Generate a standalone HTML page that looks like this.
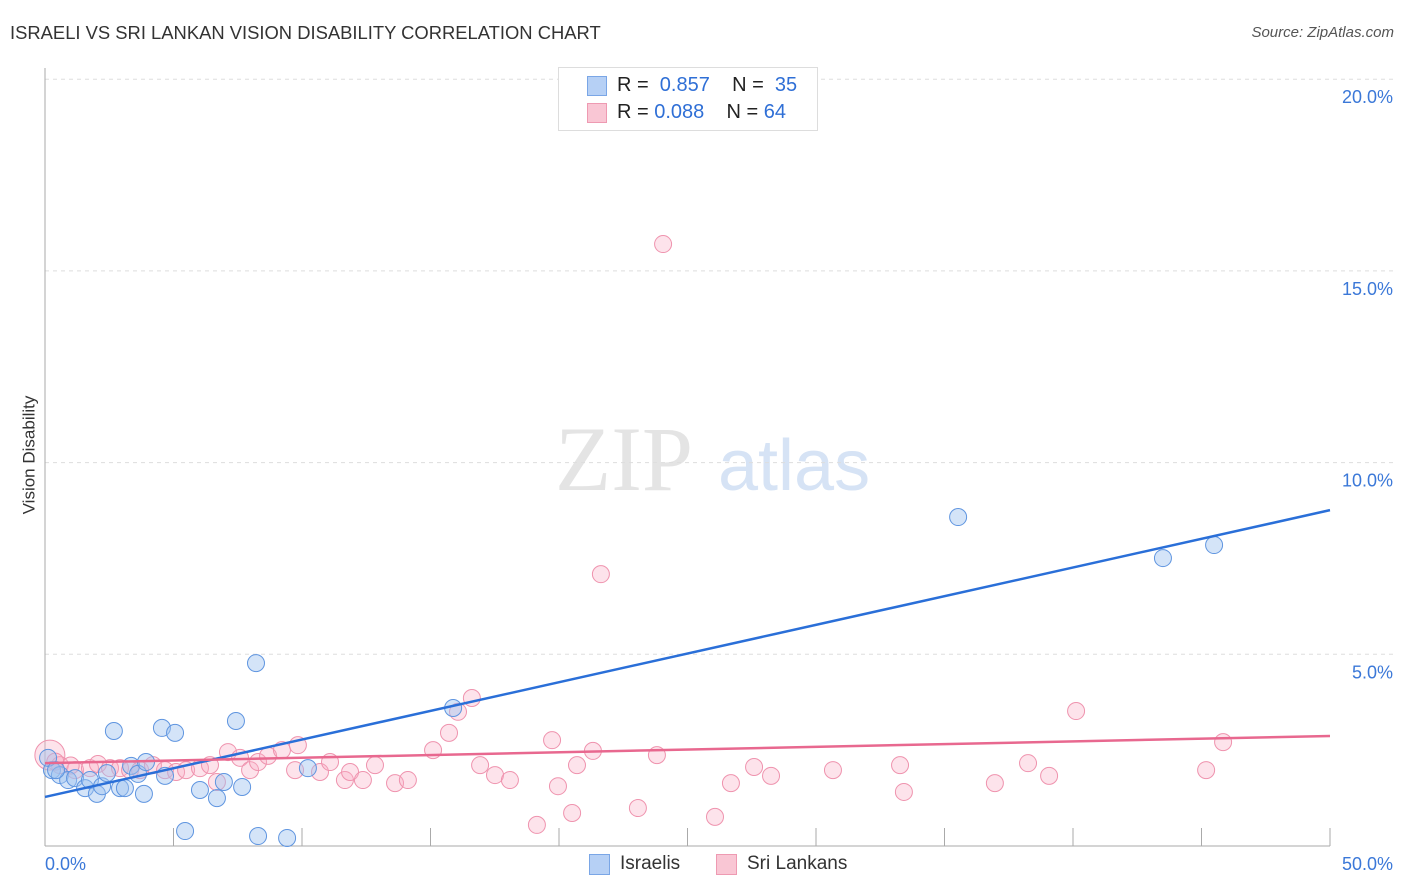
<!DOCTYPE html>
<html><head><meta charset="utf-8"><style>
body{margin:0;background:#fff;font-family:"Liberation Sans",sans-serif;}
#wrap{position:relative;width:1406px;height:892px;overflow:hidden;}
.t{position:absolute;white-space:nowrap;}
</style></head><body>
<div id="wrap">
<div class="t" style="left:10px;top:22px;font-size:18.4px;color:#333;">ISRAELI VS SRI LANKAN VISION DISABILITY CORRELATION CHART</div>
<div class="t" style="right:12px;top:24px;font-size:15px;color:#555;font-style:italic;">Source: ZipAtlas.com</div>
<div class="t" style="left:-30px;top:445px;font-size:17px;color:#333;transform:rotate(-90deg);">Vision Disability</div>
<svg id="plot" width="1406" height="892" style="position:absolute;left:0;top:0"></svg>
<div style="position:absolute;left:558px;top:67px;width:258px;height:62px;border:1px solid #ddd;background:#fff;font-size:20px;">
 <div style="position:absolute;left:28px;top:8px;width:18px;height:18px;background:#b6d0f5;border:1px solid #7aa6e6;"></div>
 <div class="t" style="left:58px;top:6px;color:#222;">R = <span style="color:#2f6fd6">&nbsp;0.857</span>&nbsp;&nbsp;&nbsp; N = <span style="color:#2f6fd6">&nbsp;35</span></div>
 <div style="position:absolute;left:28px;top:35px;width:18px;height:18px;background:#f9c6d4;border:1px solid #ee9ab2;"></div>
 <div class="t" style="left:58px;top:33px;color:#222;">R = <span style="color:#2f6fd6">0.088</span>&nbsp;&nbsp;&nbsp; N = <span style="color:#2f6fd6">64</span></div>
</div>
<div style="position:absolute;left:589px;top:854px;width:19px;height:19px;background:#b6d0f5;border:1px solid #7aa6e6;"></div>
<div class="t" style="left:620px;top:853px;font-size:19px;color:#333;">Israelis</div>
<div style="position:absolute;left:716px;top:854px;width:19px;height:19px;background:#f9c6d4;border:1px solid #ee9ab2;"></div>
<div class="t" style="left:747px;top:853px;font-size:19px;color:#333;">Sri Lankans</div>
</div>
<script>
const yTicks=[5,10,15,20];
const yTickLabels=["5.0%","10.0%","15.0%","20.0%"];
const xTickVals=[0,5,10,15,20,25,30,35,40,45,50];
const xEndLabels=["0.0%","50.0%"];
const blueX=[0.27,0.58,0.9,1.17,1.56,1.75,2.02,2.22,2.41,2.68,2.92,3.11,3.35,3.62,3.85,3.93,4.55,4.67,5.06,5.45,6.03,6.69,6.96,7.43,7.67,8.21,8.29,9.42,10.23,15.88,35.53,43.5,45.49,0.12,0.43];
const blueY=[1.98,1.85,1.72,1.77,1.51,1.72,1.36,1.56,1.9,3.0,1.51,1.51,2.09,1.88,1.36,2.19,3.08,1.83,2.95,0.39,1.46,1.25,1.67,3.26,1.54,4.77,0.26,0.21,2.03,3.6,8.58,7.51,7.85,2.3,1.98];
const pinkX=[0.19,0.58,1.17,1.75,2.06,2.53,2.92,3.31,3.7,4.2,4.67,5.1,5.49,6.03,6.42,6.69,7.12,7.59,7.98,8.29,8.68,9.22,9.73,9.84,10.7,11.09,11.67,11.87,12.37,12.84,13.62,14.12,15.1,15.72,16.07,16.61,16.93,17.51,18.09,19.14,19.73,19.96,20.51,20.7,21.32,21.63,23.07,23.81,24.05,26.07,26.69,27.59,28.25,30.66,33.27,33.42,36.96,38.25,39.07,40.12,45.18,45.84,0.4,1.0];
const pinkY=[2.37,2.11,1.98,2.03,2.14,2.03,2.03,1.98,1.98,2.11,1.98,1.93,1.98,2.03,2.11,1.67,2.45,2.3,1.98,2.19,2.35,2.5,1.98,2.63,1.93,2.19,1.72,1.93,1.72,2.11,1.64,1.72,2.5,2.95,3.5,3.86,2.11,1.85,1.72,0.55,2.76,1.56,0.86,2.11,2.48,7.09,0.99,2.37,15.7,0.76,1.64,2.06,1.83,1.98,2.11,1.41,1.64,2.16,1.83,3.52,1.98,2.71,2.2,2.1];
const blueTrend=[1.28,8.76];
const pinkTrend=[2.16,2.87];
const X=v=>45+v/50*1285;
const Y=v=>846-v/5*191.7;
const svg=document.getElementById('plot');
const NS='http://www.w3.org/2000/svg';
function mk(tag,attrs){const e=document.createElementNS(NS,tag);for(const k in attrs)e.setAttribute(k,attrs[k]);svg.appendChild(e);return e;}
let wm=mk('text',{x:555,y:490,'font-size':92,fill:'#e4e4e4','font-family':'Liberation Serif, serif'});wm.textContent='ZIP';


let wm2=mk('text',{x:718,y:490,'font-size':72,fill:'#d6e3f5','font-family':'Liberation Sans, sans-serif'});wm2.textContent='atlas';


yTicks.forEach((v,i)=>{
 const g=mk('line',{x1:45,x2:1395,y1:Y(v),y2:Y(v),stroke:'#ddd','stroke-dasharray':'4,4'});
 
 
 const t=mk('text',{x:1393,y:Y(v)+24,'text-anchor':'end','font-size':18,fill:'#3b78d8','font-family':'Liberation Sans, sans-serif'});
 t.textContent=yTickLabels[i];
 
 
});
const ax=mk('line',{x1:45,x2:45,y1:68,y2:846,stroke:'#aaa'});


const bx=mk('line',{x1:45,x2:1330,y1:846,y2:846,stroke:'#aaa'});


xTickVals.forEach(v=>{
 const l=mk('line',{x1:X(v),x2:X(v),y1:828,y2:846,stroke:'#aaa'});
 
 
});
[[0,'start',45],[50,'end',1393]].forEach((a,i)=>{
 const t=mk('text',{x:a[2],y:870,'text-anchor':a[1],'font-size':18,fill:'#3b78d8','font-family':'Liberation Sans, sans-serif'});
 t.textContent=xEndLabels[i];
 
 
});
pinkX.forEach((x,i)=>{
 const c=mk('circle',{cx:X(x),cy:Y(pinkY[i]),r:i==0?15:8.5,fill:'rgba(248,175,198,0.35)',stroke:'#ef93ae','stroke-width':1});
 
 
});
blueX.forEach((x,i)=>{
 const c=mk('circle',{cx:X(x),cy:Y(blueY[i]),r:8.5,fill:'rgba(160,196,240,0.45)',stroke:'#5f95e0','stroke-width':1});
 
 
});
const tb=mk('line',{x1:X(0),y1:Y(blueTrend[0]),x2:X(50),y2:Y(blueTrend[1]),stroke:'#2a6fd8','stroke-width':2.5});


const tp=mk('line',{x1:X(0),y1:Y(pinkTrend[0]),x2:X(50),y2:Y(pinkTrend[1]),stroke:'#e8688f','stroke-width':2.5});


</script>
</body></html>
